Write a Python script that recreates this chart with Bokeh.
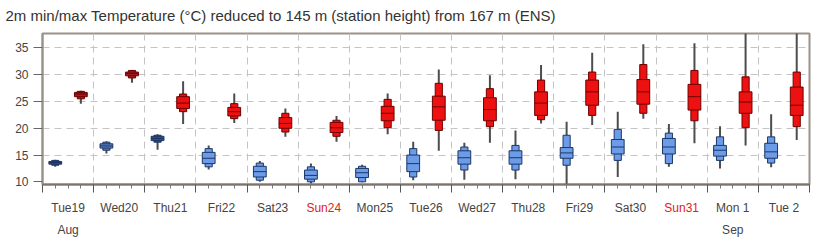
import numpy as np
from bokeh.plotting import figure
from bokeh.layouts import column
from bokeh.models import FixedTicker, ColumnDataSource, Range1d
from bokeh.core.properties import value
from bokeh.embed import file_html
from bokeh.resources import INLINE

# ---- data ----
title = "2m min/max Temperature (\u00b0C) reduced to 145 m (station height) from 167 m (ENS)"
days = ["Tue19", "Wed20", "Thu21", "Fri22", "Sat23", "Sun24", "Mon25", "Tue26",
        "Wed27", "Thu28", "Fri29", "Sat30", "Sun31", "Mon 1", "Tue 2"]
sunday_idx = [5, 12]
months = ["Aug", "Sep"]
month_idx = [0, 13]

# minimum temperature ensemble statistics
tmin_min = [12.8, 15.3, 16.0, 12.3, 10.0, 9.7, 9.9, 10.3, 10.4, 10.5, 9.6, 10.9, 12.8, 12.5, 12.7]
tmin_p10 = [13.1, 15.9, 17.4, 12.8, 10.3, 10.0, 10.0, 10.9, 12.2, 12.2, 13.1, 14.0, 13.4, 14.0, 13.5]
tmin_p25 = [13.3, 16.3, 17.7, 13.4, 10.9, 10.5, 10.8, 11.9, 13.3, 13.3, 14.4, 15.2, 15.2, 14.8, 14.4]
tmin_med = [13.6, 16.7, 18.1, 14.4, 11.9, 11.2, 11.7, 13.4, 14.5, 14.5, 15.4, 16.5, 16.5, 15.9, 15.6]
tmin_p75 = [13.8, 17.1, 18.5, 15.5, 12.9, 12.2, 12.5, 15.0, 15.8, 15.8, 16.4, 17.9, 18.1, 16.8, 17.2]
tmin_p90 = [14.0, 17.4, 18.7, 16.2, 13.5, 12.8, 12.9, 16.2, 16.5, 16.8, 18.7, 19.8, 19.1, 18.4, 18.4]
tmin_max = [14.1, 17.6, 18.9, 16.8, 13.9, 13.4, 13.2, 17.5, 17.3, 19.6, 21.2, 23.1, 20.8, 20.4, 22.6]

# maximum temperature ensemble statistics
tmax_min = [24.6, 28.5, 20.8, 21.0, 18.4, 17.5, 18.9, 15.8, 17.3, 20.9, 20.6, 21.8, 17.2, 16.8, 17.8]
tmax_p10 = [25.5, 29.4, 23.1, 21.8, 19.3, 18.5, 20.1, 19.6, 20.3, 21.6, 22.4, 22.8, 21.4, 20.1, 20.3]
tmax_p25 = [25.9, 29.8, 23.7, 22.3, 20.0, 19.2, 21.4, 21.5, 21.4, 22.4, 24.3, 24.5, 23.4, 22.8, 22.4]
tmax_med = [26.4, 30.2, 24.7, 23.1, 20.9, 20.1, 22.8, 24.0, 23.5, 24.7, 26.8, 26.8, 25.9, 24.9, 24.3]
tmax_p75 = [26.7, 30.5, 25.9, 23.9, 22.0, 21.1, 24.1, 26.0, 25.7, 26.8, 29.0, 29.1, 28.2, 26.8, 27.7]
tmax_p90 = [26.9, 30.8, 26.4, 24.6, 22.8, 21.5, 25.4, 28.4, 27.4, 29.0, 30.5, 31.9, 30.8, 29.6, 30.5]
tmax_max = [27.0, 30.9, 28.8, 26.5, 23.7, 22.3, 26.5, 31.0, 29.9, 31.8, 34.1, 35.7, 35.9, 38.0, 38.5]

y_ticks = [10, 15, 20, 25, 30, 35]

# ---- styles ----
blue_fill = ["#3d4763", "#5b7fbf", "#3f4b69"] + ["#6c9be8"] * 12
red_fill = ["#a21d1d", "#a82222", "#e81010"] + ["#ee1111"] * 12
blue_line = "#1d3766"
red_line = "#6e0000"
frame_col = "#9c9288"
grid_col = "#c4c4c4"
text_col = "#444444"
sun_col = "#e02020"
font = "Liberation Sans"

n = len(days)
idx = np.arange(n)

# ---- title strip ----
t = figure(width=813, height=31, x_range=Range1d(0, 813), y_range=Range1d(0, 31),
           output_backend="svg", toolbar_location=None,
           x_axis_type=None, y_axis_type=None,
           min_border_left=0, min_border_right=0, min_border_top=0, min_border_bottom=0)
t.frame_align = False
t.outline_line_color = None
t.xgrid.visible = False
t.ygrid.visible = False
t.text(x=[5], y=[16], text=[title], text_color="#333333",
       text_align="left", text_baseline="middle",
       text_font=value(font), text_font_size="15px")

# ---- main chart ----
p = figure(width=813, height=165, x_range=(0, n), y_range=(9.5, 37.7),
           output_backend="svg", toolbar_location=None,
           min_border_left=42, min_border_right=4, min_border_top=2, min_border_bottom=12)

p.outline_line_color = frame_col
p.outline_line_width = 2
p.background_fill_color = "white"
p.border_fill_color = "white"

xa = p.xaxis[0]
xticks = list(range(n + 1))
xa.ticker = FixedTicker(ticks=xticks,
                        minor_ticks=[i + q for i in range(n) for q in (0.25, 0.5, 0.75)])
xa.major_label_overrides = {tk: "" for tk in xticks}
xa.major_label_standoff = 0
xa.axis_line_color = "#7d746b"
xa.axis_line_width = 2
xa.major_tick_line_color = "#555555"
xa.major_tick_out = 8
xa.major_tick_in = 0
xa.minor_tick_line_color = "#777777"
xa.minor_tick_out = 4
xa.minor_tick_in = 0

ya = p.yaxis[0]
ya.ticker = FixedTicker(ticks=y_ticks)
ya.axis_line_color = frame_col
ya.axis_line_width = 2
ya.major_tick_line_color = "#666666"
ya.major_tick_out = 9
ya.major_tick_in = 0
ya.minor_tick_line_color = None
ya.major_label_text_font = font
ya.major_label_text_font_size = "12px"
ya.major_label_text_color = text_col
ya.major_label_standoff = 5

p.xgrid.ticker = FixedTicker(ticks=list(range(1, n)))
p.xgrid.grid_line_color = grid_col
p.xgrid.grid_line_dash = "7 5"
p.ygrid.ticker = FixedTicker(ticks=y_ticks[1:])
p.ygrid.grid_line_color = grid_col
p.ygrid.grid_line_dash = "7 5"


def draw(xpos, vmin, p10, p25, med, p75, p90, vmax, fills, line):
    src = ColumnDataSource(dict(x=xpos, vmin=vmin, p10=p10, p25=p25, med=med,
                                p75=p75, p90=p90, vmax=vmax, fill=fills,
                                ml=xpos - 0.125, mr=xpos + 0.125))
    p.segment(x0="x", y0="vmin", x1="x", y1="vmax", source=src,
              line_color="#4d4d4d", line_width=2)
    p.vbar(x="x", width=0.14, bottom="p10", top="p90", source=src,
           fill_color="fill", line_color=line, line_width=1)
    p.vbar(x="x", width=0.25, bottom="p25", top="p75", source=src,
           fill_color="fill", line_color=line, line_width=1)
    p.segment(x0="ml", y0="med", x1="mr", y1="med", source=src,
              line_color=line, line_width=1)


draw(idx + 0.25, tmin_min, tmin_p10, tmin_p25, tmin_med, tmin_p75, tmin_p90, tmin_max,
     blue_fill, blue_line)
draw(idx + 0.75, tmax_min, tmax_p10, tmax_p25, tmax_med, tmax_p75, tmax_p90, tmax_max,
     red_fill, red_line)

# ---- label strip below the chart (shares the x range) ----
q = figure(width=813, height=45, x_range=p.x_range, y_range=Range1d(0, 45),
           output_backend="svg", toolbar_location=None,
           x_axis_type=None, y_axis_type=None,
           min_border_left=42, min_border_right=4, min_border_top=0, min_border_bottom=0)
q.outline_line_color = None
q.xgrid.visible = False
q.ygrid.visible = False
q.border_fill_color = "white"

day_src = ColumnDataSource(dict(
    x=idx + 0.5, y=[34] * n, text=days,
    color=[sun_col if i in sunday_idx else text_col for i in range(n)]))
q.text(x="x", y="y", text="text", text_color="color", source=day_src,
       text_align="center", text_baseline="middle",
       text_font=value(font), text_font_size="12px")

mon_src = ColumnDataSource(dict(x=[i + 0.5 for i in month_idx], y=[12] * len(months),
                                text=months))
q.text(x="x", y="y", text="text", source=mon_src, text_color=text_col,
       text_align="center", text_baseline="middle",
       text_font=value(font), text_font_size="12px")

layout = column(t, p, q, spacing=0)
open("out.html", "w").write(file_html(layout, INLINE))
